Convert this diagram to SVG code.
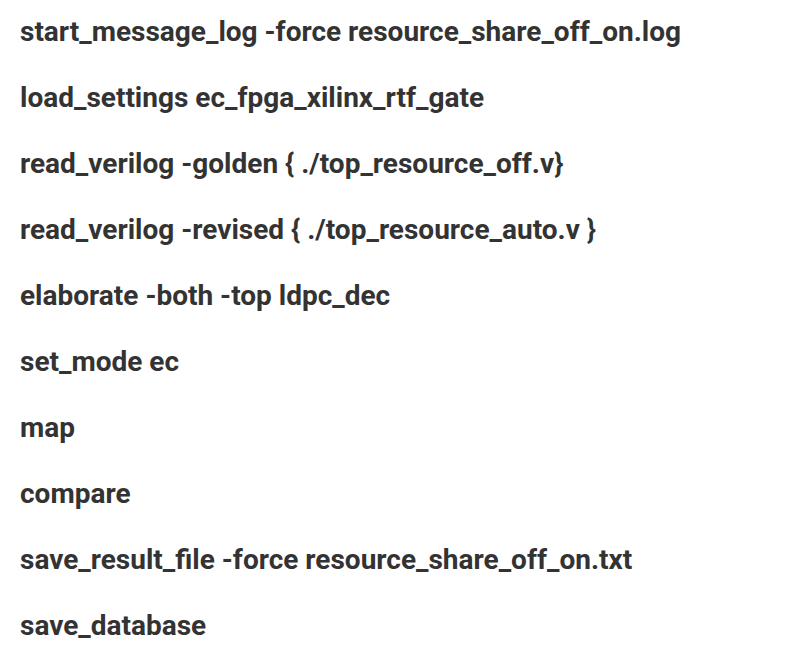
<svg xmlns="http://www.w3.org/2000/svg" width="802" height="660" viewBox="0 0 802 660">
<style>text{font-family:Roboto,"Liberation Sans",sans-serif;font-weight:700;font-size:28px;fill:#333}</style>
<rect width="802" height="660" fill="#fff"/>
<text x="20" y="41">start_message_log -force resource_share_off_on.log</text>
<text x="20" y="107">load_settings ec_fpga_xilinx_rtf_gate</text>
<text x="20" y="173">read_verilog -golden { ./top_resource_off.v}</text>
<text x="20" y="239">read_verilog -revised { ./top_resource_auto.v }</text>
<text x="20" y="305">elaborate -both -top ldpc_dec</text>
<text x="20" y="371">set_mode ec</text>
<text x="20" y="437">map</text>
<text x="20" y="503">compare</text>
<text x="20" y="569">save_result_file -force resource_share_off_on.txt</text>
<text x="20" y="635">save_database</text>
</svg>
